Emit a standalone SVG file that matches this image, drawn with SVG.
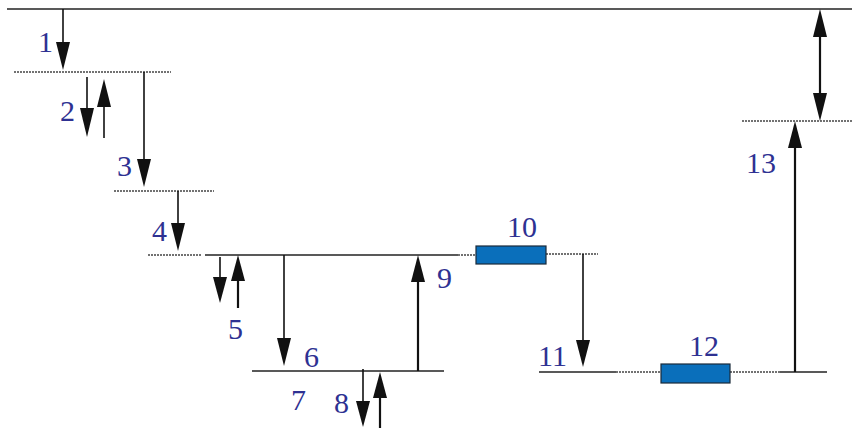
<svg xmlns="http://www.w3.org/2000/svg" width="852" height="428" viewBox="0 0 852 428">
<style>
.t{font-family:"Liberation Serif","Times New Roman",serif;font-size:30px;fill:#2e3192}
.lv{stroke:#222;stroke-width:1.5;fill:none}
.dl{stroke:#444;stroke-width:1.3;stroke-dasharray:2 1;fill:none}
.sh{stroke:#111;stroke-width:1.6;fill:none}
.sh2{stroke:#111;stroke-width:2.2;fill:none}
.hd{fill:#111}
.box{fill:#0a6fbb;stroke:#1a2a3a;stroke-width:1.2}
</style>
<rect width="852" height="428" fill="#fff"/>
<g id="levels">
<line class="lv" x1="7" y1="9" x2="852" y2="9"/>
<line class="dl" x1="14" y1="72" x2="171" y2="72"/>
<line class="dl" x1="114" y1="191" x2="214" y2="191"/>
<line class="dl" x1="148" y1="255" x2="202" y2="255"/>
<line class="lv" x1="205" y1="255" x2="458" y2="255"/>
<line class="dl" x1="458" y1="255" x2="476" y2="255"/>
<line class="dl" x1="546" y1="254" x2="598" y2="254"/>
<line class="lv" x1="252" y1="371" x2="444" y2="371"/>
<line class="lv" x1="539" y1="372" x2="616" y2="372"/>
<line class="dl" x1="616" y1="372" x2="661" y2="372"/>
<line class="dl" x1="730" y1="372" x2="780" y2="372"/>
<line class="lv" x1="780" y1="372" x2="827" y2="372"/>
<line class="dl" x1="742" y1="121" x2="852" y2="121"/>
</g>
<g id="node-10"><rect class="box" x="476" y="246" width="70" height="18"/></g>
<g id="node-12"><rect class="box" x="661" y="364" width="69" height="19"/></g>
<g id="connectors">
<line class="sh" x1="63" y1="9" x2="63" y2="45"/><polygon class="hd" points="56,42 70,42 63,70"/>
<line class="sh" x1="87" y1="77" x2="87" y2="111"/><polygon class="hd" points="80,108 94,108 87,137"/>
<line class="sh" x1="104" y1="138" x2="104" y2="104"/><polygon class="hd" points="97,107 111,107 104,79"/>
<line class="sh" x1="144" y1="72" x2="144" y2="162"/><polygon class="hd" points="137,159 151,159 144,187"/>
<line class="sh" x1="178" y1="191" x2="178" y2="226"/><polygon class="hd" points="171,223 185,223 178,251"/>
<line class="sh" x1="220" y1="257" x2="220" y2="280"/><polygon class="hd" points="213,277 227,277 220,303"/>
<line class="sh2" x1="238" y1="308" x2="238" y2="278"/><polygon class="hd" points="231,281 245,281 238,255"/>
<line class="sh" x1="284" y1="255" x2="284" y2="341"/><polygon class="hd" points="277,338 291,338 284,366"/>
<line class="sh2" x1="418" y1="371" x2="418" y2="279"/><polygon class="hd" points="411,282 425,282 418,255"/>
<line class="sh" x1="363" y1="369" x2="363" y2="404"/><polygon class="hd" points="356,401 370,401 363,427"/>
<line class="sh2" x1="380" y1="428" x2="380" y2="395"/><polygon class="hd" points="373,398 387,398 380,372"/>
<line class="sh" x1="583" y1="254" x2="583" y2="343"/><polygon class="hd" points="576,340 590,340 583,367"/>
<line class="sh2" x1="795" y1="372" x2="795" y2="145"/><polygon class="hd" points="788,148 802,148 795,121"/>
<line class="sh2" x1="820" y1="34" x2="820" y2="96"/><polygon class="hd" points="813,37 827,37 820,9"/><polygon class="hd" points="813,93 827,93 820,121"/>
</g>
<g id="labels">
<text class="t" x="38" y="52">1</text>
<text class="t" x="60" y="121">2</text>
<text class="t" x="117" y="176">3</text>
<text class="t" x="152" y="241">4</text>
<text class="t" x="228" y="339">5</text>
<text class="t" x="304" y="367">6</text>
<text class="t" x="291" y="410">7</text>
<text class="t" x="334" y="413">8</text>
<text class="t" x="437" y="288">9</text>
<text class="t" x="507" y="237">10</text>
<text class="t" x="538" y="366">11</text>
<text class="t" x="689" y="356">12</text>
<text class="t" x="746" y="173">13</text>
</g>
</svg>
